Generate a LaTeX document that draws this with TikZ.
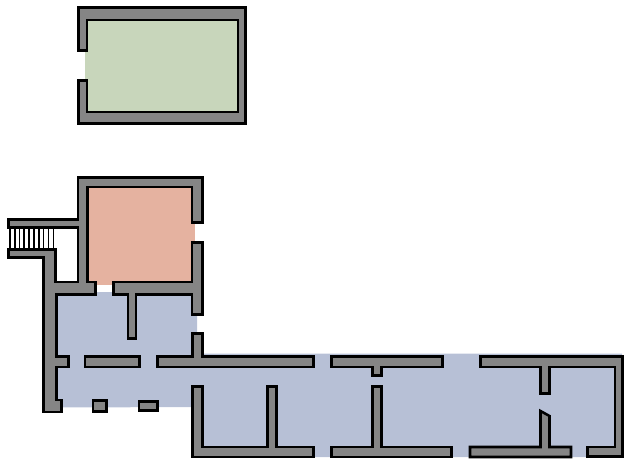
\documentclass[tikz,border=0pt]{standalone}
\definecolor{wallgray}{HTML}{858585}
\definecolor{roomblue}{HTML}{B7C0D6}
\definecolor{roomred}{HTML}{E5B2A0}
\definecolor{roomgreen}{HTML}{C8D6BB}
\tikzset{
  wall/.style={draw=black,fill=wallgray,line width=1.9pt,line join=miter},
  rung/.style={draw=black,line width=1.3pt},
}
\begin{document}
\begin{tikzpicture}[x=0.75pt,y=-0.75pt]
\useasboundingbox (0,0) rectangle (624,463);
% rooms
\fill[roomgreen] (85,20) rectangle (238,112);
\fill[roomred] (87,187) rectangle (195,285);
\fill[roomblue] (56,292) -- (197,292) -- (197,353.5) -- (622,353.5) -- (622,457) -- (203,457) -- (203,407) -- (56,407.5) -- cycle;
% stair rungs
\foreach \x in {10,14.7,19.4,24.2,29,33.8,38.7,43.6,48.6,53.4}
  \draw[rung] (\x,228) -- (\x,249);
% green room walls
\draw[wall] (78.5,7.5) -- (245.5,7.5) -- (245.5,123.5) -- (78.5,123.5) -- (78.5,80.5) -- (87,80.5) -- (87,112) -- (238,112) -- (238,20) -- (87,20) -- (87,50.5) -- (78.5,50.5) -- cycle;
% red room, stair and west wall
\draw[wall] (78,177.5) -- (202.5,177.5) -- (202.5,222.5) -- (192,222.5) -- (192,187) -- (87.5,187) -- (87.5,282) -- (95.5,282) -- (95.5,294.5) -- (56.5,294.5) -- (56.5,356.5) -- (68.5,356.5) -- (68.5,367) -- (56.5,367) -- (56.5,400) -- (61.5,400) -- (61.5,412) -- (43.5,412) -- (43.5,257.5) -- (8.5,257.5) -- (8.5,249.5) -- (55.5,249.5) -- (55.5,282) -- (78,282) -- (78,227.5) -- (8.5,227.5) -- (8.5,219.5) -- (78,219.5) -- cycle;
\draw[wall] (192,242.5) -- (202.5,242.5) -- (202.5,314.5) -- (192,314.5) -- (192,294.5) -- (136,294.5) -- (136,338.5) -- (128,338.5) -- (128,294.5) -- (113.5,294.5) -- (113.5,282) -- (192,282) -- cycle;
% corridor north walls
\draw[wall] (85,356.5) rectangle (139.5,367);
\draw[wall] (157.5,356.5) -- (192.5,356.5) -- (192.5,333.5) -- (202.5,333.5) -- (202.5,356.5) -- (313.5,356.5) -- (313.5,367) -- (157.5,367) -- cycle;
\draw[wall] (331.5,356.5) -- (442.5,356.5) -- (442.5,367) -- (381.5,367) -- (381.5,375.5) -- (372.5,375.5) -- (372.5,367) -- (331.5,367) -- cycle;
\draw[wall] (480.5,356.5) -- (622.5,356.5) -- (622.5,456.5) -- (587.5,456.5) -- (587.5,447) -- (615,447) -- (615,367) -- (549.5,367) -- (549.5,393.5) -- (540.5,393.5) -- (540.5,367) -- (480.5,367) -- cycle;
% piers
\draw[wall] (93,400.5) rectangle (106.5,411.5);
\draw[wall] (139,401.5) rectangle (157.5,410.5);
% south walls
\draw[wall] (192.5,386.5) -- (202.5,386.5) -- (202.5,447) -- (267.5,447) -- (267.5,386.5) -- (276.5,386.5) -- (276.5,447) -- (313.5,447) -- (313.5,457) -- (192.5,457) -- cycle;
\draw[wall] (331.5,447) -- (372.5,447) -- (372.5,386.5) -- (381.5,386.5) -- (381.5,447) -- (451.5,447) -- (451.5,457) -- (331.5,457) -- cycle;
\draw[wall] (470,447) -- (540.5,447) -- (540.5,411) -- (549.5,416) -- (549.5,447) -- (571,447) -- (571,457) -- (470,457) -- cycle;
\end{tikzpicture}
\end{document}
